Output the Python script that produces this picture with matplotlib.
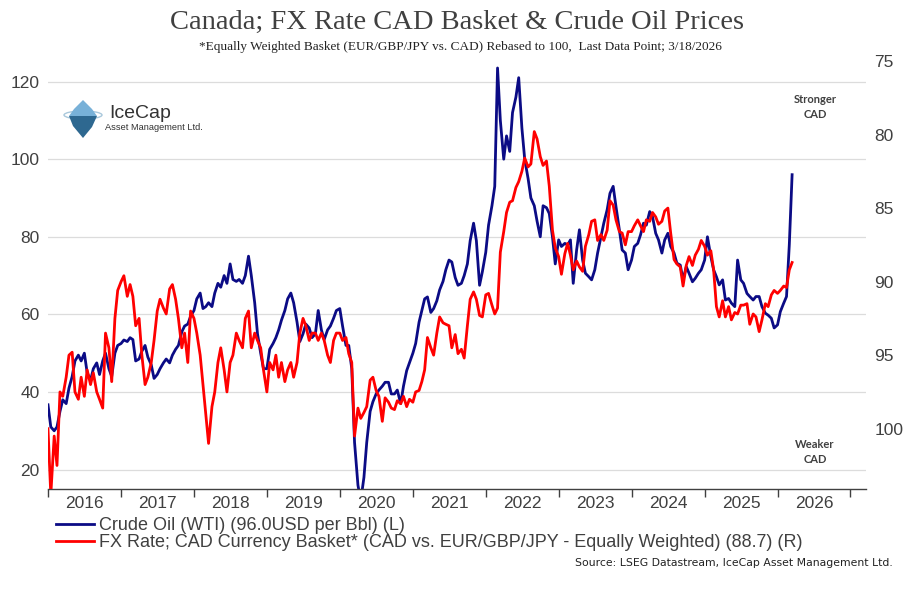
import pandas as pd
import matplotlib
matplotlib.use("Agg")
import matplotlib.pyplot as plt
import matplotlib.dates as mdates
from matplotlib.lines import Line2D
from matplotlib.patches import Polygon, Ellipse

# ------------------------------------------------------------
# values, 1st and 15th of each month
# Jan 2016 .. Mar 2026 (24 readings per year)
# ------------------------------------------------------------
wti = [
    36.7, 31, 30, 31, 35, 38, 37, 41, 44, 48, 49.5, 48, 50, 45, 43, 46, 47.5, 44.5, 48, 50, 46, 44, 50, 52,          # 2016
    52.5, 53.4, 53, 54, 53.5, 48, 48.5, 50.5, 52, 49, 47, 43.5, 44.5, 46, 47.5, 48.5, 47.5, 49.5, 51, 52, 55.5, 57, 57.5, 59.5,  # 2017
    61, 64, 65.5, 61.5, 62, 63, 62, 65.5, 68, 67, 70, 68, 73, 69, 68.5, 69, 68, 70, 75, 70, 63, 55, 50, 46,          # 2018
    46, 51, 52.5, 54, 56, 58.5, 61, 64, 65.5, 63, 58, 53, 55, 57.5, 56.5, 54, 55, 61, 56, 53.5, 56, 57, 59, 61,      # 2019
    61.5, 57, 52, 52, 46, 27, 16, 12, 18, 27, 35, 37.5, 39.5, 40.5, 41.5, 42.5, 42.5, 39.5, 39.5, 40.5, 37, 41.5, 45.5, 47.5,  # 2020
    50, 52.5, 58, 61, 64, 64.5, 60.5, 61.5, 63.5, 66.3, 68.5, 71.5, 74, 73.5, 69.5, 67.5, 68, 70, 73, 79, 83.5, 79, 67.5, 71,  # 2021
    76, 83, 88, 93, 123.5, 110, 100, 106, 102, 112, 116, 121, 108, 100, 95, 90, 88, 84, 80, 88, 87.5, 86, 80, 73,    # 2022
    79.2, 77.5, 78.3, 77.9, 79.2, 68, 76.6, 81.8, 74, 70.6, 69.7, 68.9, 71.5, 75.8, 80, 83.5, 87, 91.2, 93, 87.8, 81.8, 76.6, 75.8, 71.5,  # 2023
    74, 77.5, 78.3, 80.5, 83.5, 83, 86.5, 85.2, 80.9, 79.2, 75.8, 79.2, 80.9, 77.5, 75.8, 73.2, 72.7, 68.9, 72.3, 70.6, 68.4, 69.3, 70.6, 71.5,  # 2024
    74, 80, 74.9, 71.5, 69.7, 67.6, 68.9, 63.7, 64.1, 62.9, 62, 74, 68.9, 68, 65.4, 64.6, 63.7, 64.6, 64.6, 62, 60.3, 59.8, 59, 56.5,  # 2025
    57.3, 60.7, 62.9, 64.6, 78, 96.0,                                                                                 # 2026
]

fx_basket = [
    100, 104.5, 100.5, 102.5, 97.5, 97.8, 96.5, 95, 94.8, 97.5, 98, 96.5, 97.8, 96, 97, 96.2, 97.5, 98, 98.6, 93.5, 94.5, 96.8, 92.5, 90.6,  # 2016
    90, 89.6, 91, 90.2, 91, 93, 92.5, 95, 97, 96.5, 95.5, 94, 92, 91.2, 91.8, 92.2, 90.5, 90.2, 91.2, 92.5, 94.5, 93.5, 95.5, 92,  # 2017
    92.5, 93.5, 95, 97, 99, 101, 98.5, 97.5, 95.5, 94.5, 96, 97.5, 95.5, 95, 93.5, 94, 94.5, 92.5, 92, 94.5, 93.5, 94, 94.5, 96,  # 2018
    97.5, 95.5, 96, 95, 96.5, 95.5, 96.8, 96, 95.5, 96.5, 95.5, 93.5, 92.5, 93, 94, 93.5, 93.5, 94, 93.5, 94, 95, 95.5, 94, 93.5,  # 2019
    93.5, 94, 93.8, 94.9, 95.5, 100.5, 98.6, 99.3, 98.9, 98.5, 96.7, 96.5, 97.4, 97.8, 99.5, 97.9, 98.2, 98.6, 98.7, 98.1, 98.3, 97.8, 98.5, 98,  # 2020
    98.2, 97.5, 97.4, 96.8, 96, 93.8, 94.5, 95, 93.5, 92.4, 92.8, 92.9, 93, 94.5, 93.6, 94.9, 94.6, 95.2, 93, 91.2, 90.7, 91.2, 92.3, 92.4,  # 2021
    90.9, 90.8, 91.6, 92.2, 91.8, 88, 86.6, 85.3, 84.6, 84.5, 83.6, 83.2, 82.5, 81.6, 82.2, 82, 79.8, 80.3, 81.5, 82.1, 81.8, 83.5, 86.5, 87.7,  # 2022
    88.3, 89.5, 88.1, 87.4, 88.2, 89.2, 88.6, 89, 89.3, 87.6, 86.8, 85.9, 85.8, 87.2, 86.8, 87.2, 86.5, 84.5, 84.8, 85.8, 86.6, 86.7, 87.5, 86.6,  # 2023
    86.6, 86.2, 85.8, 86.2, 86.6, 85.8, 85.9, 85.3, 85.6, 86.1, 85.9, 85.2, 85, 86.7, 88.5, 88.8, 89, 90.3, 88.9, 88.3, 88.9, 88.2, 87.8, 87.2,  # 2024
    87.6, 88.2, 87.9, 89.2, 91.7, 92.4, 91.3, 92.4, 91.7, 92.6, 92.1, 92.2, 91.6, 91.6, 91.5, 92.9, 92.2, 92.4, 93.4, 92.6, 91.5, 91.7, 90.9, 90.6,  # 2025
    90.8, 90.6, 90.3, 90.4, 89.2, 88.7,                                                                               # 2026
]

dates = pd.date_range("2016-01-01", periods=len(wti), freq="SMS")

left_ticks = [20, 40, 60, 80, 100, 120]
right_ticks = [75, 80, 85, 90, 95, 100]

title = "Canada; FX Rate CAD Basket & Crude Oil Prices"
subtitle = "*Equally Weighted Basket (EUR/GBP/JPY vs. CAD) Rebased to 100,  Last Data Point; 3/18/2026"
oil_label = "Crude Oil (WTI) (96.0USD per Bbl) (L)"
fx_label = "FX Rate; CAD Currency Basket* (CAD vs. EUR/GBP/JPY - Equally Weighted) (88.7) (R)"
source = "Source: LSEG Datastream, IceCap Asset Management Ltd."

BLUE = "#0b0b85"
RED = "#ff0000"
GREY = "#404040"
TICK_SIZE = 12.5

W, H = 915, 589
fig = plt.figure(figsize=(W / 100, H / 100), dpi=100)
fig.patch.set_facecolor("white")

# ── main axes (oil, left) ──
ax = fig.add_axes([48 / W, 1 - 489 / H, (866 - 48) / W, (489 - 61) / H])
ax.plot(dates, wti, color=BLUE, lw=2, zorder=2)
ax.set_ylim(15, 125.3)
ax.set_yticks(left_ticks)
ax.grid(axis="y", color="#dcdcdc", lw=0.9)
ax.set_axisbelow(True)
for s in ["top", "left", "right"]:
    ax.spines[s].set_visible(False)
ax.spines["bottom"].set_color(GREY)
ax.spines["bottom"].set_linewidth(1.0)
ax.tick_params(axis="y", length=0, pad=6, labelsize=TICK_SIZE, labelcolor=GREY)
for lab in ax.get_yticklabels():
    lab.set_family("Liberation Sans")

ax.set_xlim(pd.Timestamp("2016-01-01"), pd.Timestamp("2027-03-20"))
ax.xaxis.set_major_locator(mdates.YearLocator())
ax.xaxis.set_major_formatter(plt.NullFormatter())
ax.xaxis.set_minor_locator(mdates.MonthLocator(bymonth=7, bymonthday=2))
ax.xaxis.set_minor_formatter(mdates.DateFormatter("%Y"))
ax.tick_params(axis="x", which="major", length=6, width=1, color=GREY)
ax.tick_params(axis="x", which="minor", length=0, pad=5, labelsize=TICK_SIZE, labelcolor=GREY)
for lab in ax.xaxis.get_minorticklabels():
    lab.set_family("Liberation Sans")

# ── twin axes (fx basket, right, inverted) ──
ax2 = ax.twinx()
ax2.plot(dates, fx_basket, color=RED, lw=2, zorder=3)
ax2.set_ylim(104.1, 75)
ax2.set_yticks(right_ticks)
for s in ax2.spines.values():
    s.set_visible(False)
ax2.tick_params(axis="y", length=0, pad=6, labelsize=TICK_SIZE, labelcolor=GREY)
for lab in ax2.get_yticklabels():
    lab.set_family("Liberation Sans")

# ── titles and notes ──
fig.text(457 / W, 1 - 22 / H, title, ha="center", va="center",
         fontsize=20.5, family="Liberation Serif", color=GREY)
fig.text(460 / W, 1 - 47 / H, subtitle, ha="center", va="center",
         fontsize=9.5, family="Liberation Serif", color="#222222")
fig.text(815 / W, 1 - 107 / H, "Stronger\nCAD", ha="center", va="center",
         fontsize=8, family="Lato", weight="bold", color=GREY, linespacing=1.35)
fig.text(815 / W, 1 - 452 / H, "Weaker\nCAD", ha="center", va="center",
         fontsize=8, family="Lato", weight="bold", color=GREY, linespacing=1.35)
fig.text(893 / W, 1 - 563 / H, source, ha="right", va="center",
         fontsize=7.8, family="DejaVu Sans", color="#222222")

# ── legend ──
handles = [Line2D([], [], color=BLUE, lw=2), Line2D([], [], color=RED, lw=2)]
fig.legend(handles, [oil_label, fx_label], loc="upper left",
           bbox_to_anchor=(56 / W, 1 - 517 / H), frameon=False,
           prop={"family": "Liberation Sans", "size": 13}, labelcolor=GREY,
           handlelength=2.1, handletextpad=0.3, labelspacing=0.0,
           borderpad=0, borderaxespad=0)

# ── IceCap logo (decoration, pixel coords) ──
deco = fig.add_axes([0, 0, 1, 1])
deco.set_xlim(0, W)
deco.set_ylim(H, 0)
deco.axis("off")
deco.add_patch(Ellipse((83, 115), 38, 8, fill=False, ec="#a9c8dc", lw=1))
deco.add_patch(Polygon([(83, 100), (74, 109), (69, 116), (97, 116), (92, 109)],
                       closed=True, fc="#78b1d8", ec="none"))
deco.add_patch(Polygon([(69, 116), (73, 126), (83, 138), (92, 127), (97, 116)],
                       closed=True, fc="#2e6890", ec="none"))
deco.text(109, 114, "IceCap", fontsize=14, family="Liberation Sans",
          color="#333333", va="center", ha="left")
deco.text(105, 128, "Asset Management Ltd.", fontsize=6.7, family="Liberation Sans",
          color="#333333", va="center", ha="left")

fig.savefig("out.png", dpi=100)
